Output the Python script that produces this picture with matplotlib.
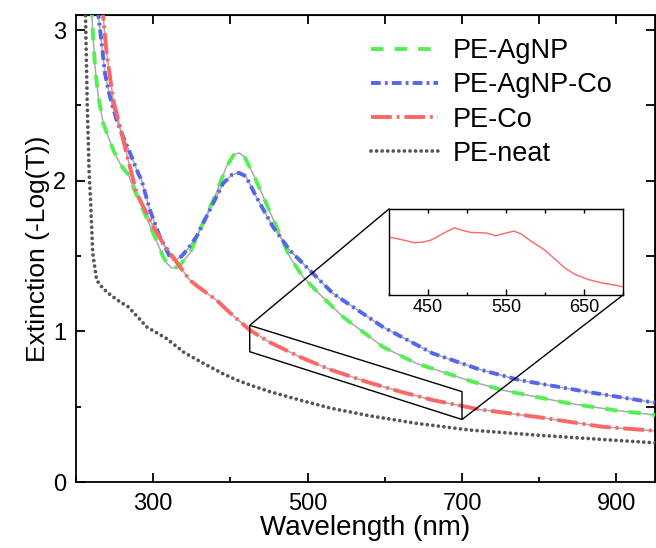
import numpy as np
import matplotlib
matplotlib.use('Agg')
import matplotlib.pyplot as plt
from matplotlib.patches import Polygon, ConnectionPatch
from matplotlib.ticker import MultipleLocator

plt.rcParams['font.family'] = ['Liberation Sans', 'DejaVu Sans']
plt.rcParams['lines.scale_dashes'] = False

# ---- data ----
wl_agnp = [219.5, 222.4, 224.6, 228.9, 235.3, 248.3, 256.9, 263, 268, 272, 287, 302, 312.9, 318,
           323.7, 330, 334.5, 347.4, 360.3, 379.7, 394.8, 404, 411.1, 418, 429.2, 446.5, 461.5,
           476.7, 493.9, 515, 545.6, 597.3, 640.5, 713.7, 752.4, 838.6, 900, 950]
ext_agnp = [3.17, 2.933, 2.756, 2.557, 2.38, 2.203, 2.115, 2.07, 2.04, 1.982, 1.805, 1.628, 1.495, 1.45,
            1.422, 1.425, 1.44, 1.518, 1.672, 1.893, 2.092, 2.17, 2.185, 2.16, 2.048, 1.849, 1.672,
            1.495, 1.362, 1.25, 1.097, 0.898, 0.788, 0.666, 0.61, 0.522, 0.475, 0.445]

wl_agnp_co = [228, 233.2, 237.5, 244, 252.6, 261.2, 272, 280.6, 284.9, 295.7, 308.6, 321.5, 326,
              330.2, 337, 345.2, 356, 373.2, 390.4, 402, 411.1, 420, 433.5, 455, 476.7, 506.8,
              532.7, 597.3, 662, 722.3, 774, 860.2, 950]
ext_agnp_co = [3.14, 2.911, 2.712, 2.557, 2.402, 2.291, 2.159, 2.048, 2.004, 1.805, 1.628, 1.495, 1.48,
               1.478, 1.50, 1.551, 1.628, 1.805, 1.982, 2.04, 2.052, 2.03, 1.893, 1.694, 1.539, 1.385,
               1.252, 1.03, 0.854, 0.748, 0.677, 0.60, 0.526]

wl_co = [233, 239.7, 248.3, 256.9, 267.6, 278.5, 290, 300, 312.9, 334.5, 347.4, 358.1, 381.9, 400,
         425, 450, 489.6, 530, 575.8, 620, 662, 722.3, 795.6, 881.7, 950]
ext_co = [3.2, 2.845, 2.535, 2.358, 2.137, 1.916, 1.80, 1.694, 1.584, 1.429, 1.34, 1.296, 1.208, 1.12,
          1.009, 0.93, 0.831, 0.745, 0.666, 0.60, 0.544, 0.482, 0.433, 0.367, 0.34]

wl_neat = [211.5, 214.6, 217, 219, 221.6, 226.7, 235, 245, 257, 267.6, 280, 291.4, 317, 340, 365,
           390, 408, 430, 451, 490, 530, 580, 640, 710, 795, 880, 950]
ext_neat = [3.3, 2.49, 2.05, 1.85, 1.52, 1.34, 1.285, 1.24, 1.196, 1.163, 1.095, 1.03, 0.953, 0.86, 0.788,
            0.72, 0.677, 0.636, 0.60, 0.544, 0.49, 0.44, 0.39, 0.345, 0.312, 0.283, 0.26]

# inset: PE-Co detail (arbitrary units)
wl_inset = [400, 420.6, 431.4, 444.3, 455, 470, 483.8, 491.5, 504.4, 517.3, 525.9, 536.7, 547.4,
            560.3, 568.9, 581.8, 599, 611.9, 624.8, 637.7, 654.9, 672.1, 689.3, 700]
val_inset = [0.673, 0.635, 0.608, 0.615, 0.642, 0.719, 0.781, 0.758, 0.727, 0.723, 0.719, 0.688, 0.715,
             0.742, 0.712, 0.627, 0.527, 0.423, 0.319, 0.242, 0.181, 0.142, 0.115, 0.096]

# zoom box around PE-Co (425-700 nm)
box_x = [425, 700, 700, 425]
box_y = [1.04, 0.60, 0.415, 0.865]

fig = plt.figure(figsize=(6.56, 5.48), dpi=100)
ax = fig.add_axes([0.1159, 0.1204, 0.8826, 0.8522])

under = dict(color='#aaaaaa', lw=1.1, zorder=2)
ax.plot(wl_agnp, ext_agnp, **under)
ax.plot(wl_agnp_co, ext_agnp_co, **under)
ax.plot(wl_co, ext_co, **under)

ax.plot(wl_agnp, ext_agnp, color='#55ee55', lw=2.8, dashes=(9, 8), label='PE-AgNP', zorder=3)
ax.plot(wl_agnp_co, ext_agnp_co, color='#5566ee', lw=2.8, dashes=(7, 3, 2, 3),
        label='PE-AgNP-Co', zorder=3)
ax.plot(wl_co, ext_co, color='#ff6666', lw=2.8, dashes=(15, 3.5, 2, 3.5), label='PE-Co', zorder=3)
ax.plot(wl_neat, ext_neat, color='#555555', lw=2.7, dashes=(0.01, 4.0), dash_capstyle='round',
        label='PE-neat', zorder=3)

ax.set_xlim(200, 950)
ax.set_ylim(0, 3.1)
ax.set_xticks([300, 500, 700, 900])
ax.xaxis.set_minor_locator(MultipleLocator(100))
ax.set_yticks([0, 1, 2, 3])
ax.yaxis.set_minor_locator(MultipleLocator(0.5))
ax.tick_params(which='major', direction='in', length=6.5, width=1.3, labelsize=17)
ax.tick_params(axis='x', which='major', pad=8)
ax.tick_params(axis='y', which='major', pad=7)
ax.tick_params(which='minor', direction='in', length=3.3, width=1.3)
for s in ax.spines.values():
    s.set_linewidth(1.3)

top = ax.secondary_xaxis('top')
top.set_xticks(np.arange(300, 1000, 100))
top.tick_params(direction='in', length=6.5, width=1.3, labeltop=False)
right = ax.secondary_yaxis('right')
right.set_yticks(np.arange(0.5, 3.1, 0.5))
right.tick_params(direction='in', length=6.5, width=1.3, labelright=False)

ax.set_xlabel('Wavelength (nm)', fontsize=20, labelpad=0)
ax.set_ylabel('Extinction (-Log(T))', fontsize=19, labelpad=2)

ax.legend(loc='upper left', bbox_to_anchor=(0.51, 0.95), frameon=False, fontsize=19.5,
          handlelength=2.45, handletextpad=0.55, labelspacing=0.3, borderpad=0, borderaxespad=0)

ax.add_patch(Polygon(list(zip(box_x, box_y)), closed=True, fill=False, ec='black', lw=1, zorder=5))

ins = fig.add_axes([0.593, 0.4617, 0.3567, 0.157])
ins.plot(wl_inset, val_inset, color='#ff6666', lw=1)
ins.set_xlim(400, 700)
ins.set_ylim(0, 1)
ins.set_xticks([450, 550, 650])
ins.xaxis.set_minor_locator(MultipleLocator(50))
ins.set_yticks([])
ins.tick_params(which='major', direction='in', length=4, width=1, labelsize=13, pad=3)
ins.tick_params(which='minor', direction='in', length=2.5, width=1)
ins_top = ins.secondary_xaxis('top')
ins_top.set_xticks(np.arange(450, 700, 50))
ins_top.tick_params(direction='in', length=3, width=1, labeltop=False)
for s in ins.spines.values():
    s.set_linewidth(1)

for xa, ya, xb, yb in [(box_x[0], box_y[0], 0, 1), (box_x[2], box_y[2], 1, 0)]:
    cp = ConnectionPatch(xyA=(xa, ya), coordsA=ax.transData, xyB=(xb, yb), coordsB=ins.transAxes,
                         color='black', lw=1, zorder=6)
    fig.add_artist(cp)

fig.savefig('out.png', dpi=100)
